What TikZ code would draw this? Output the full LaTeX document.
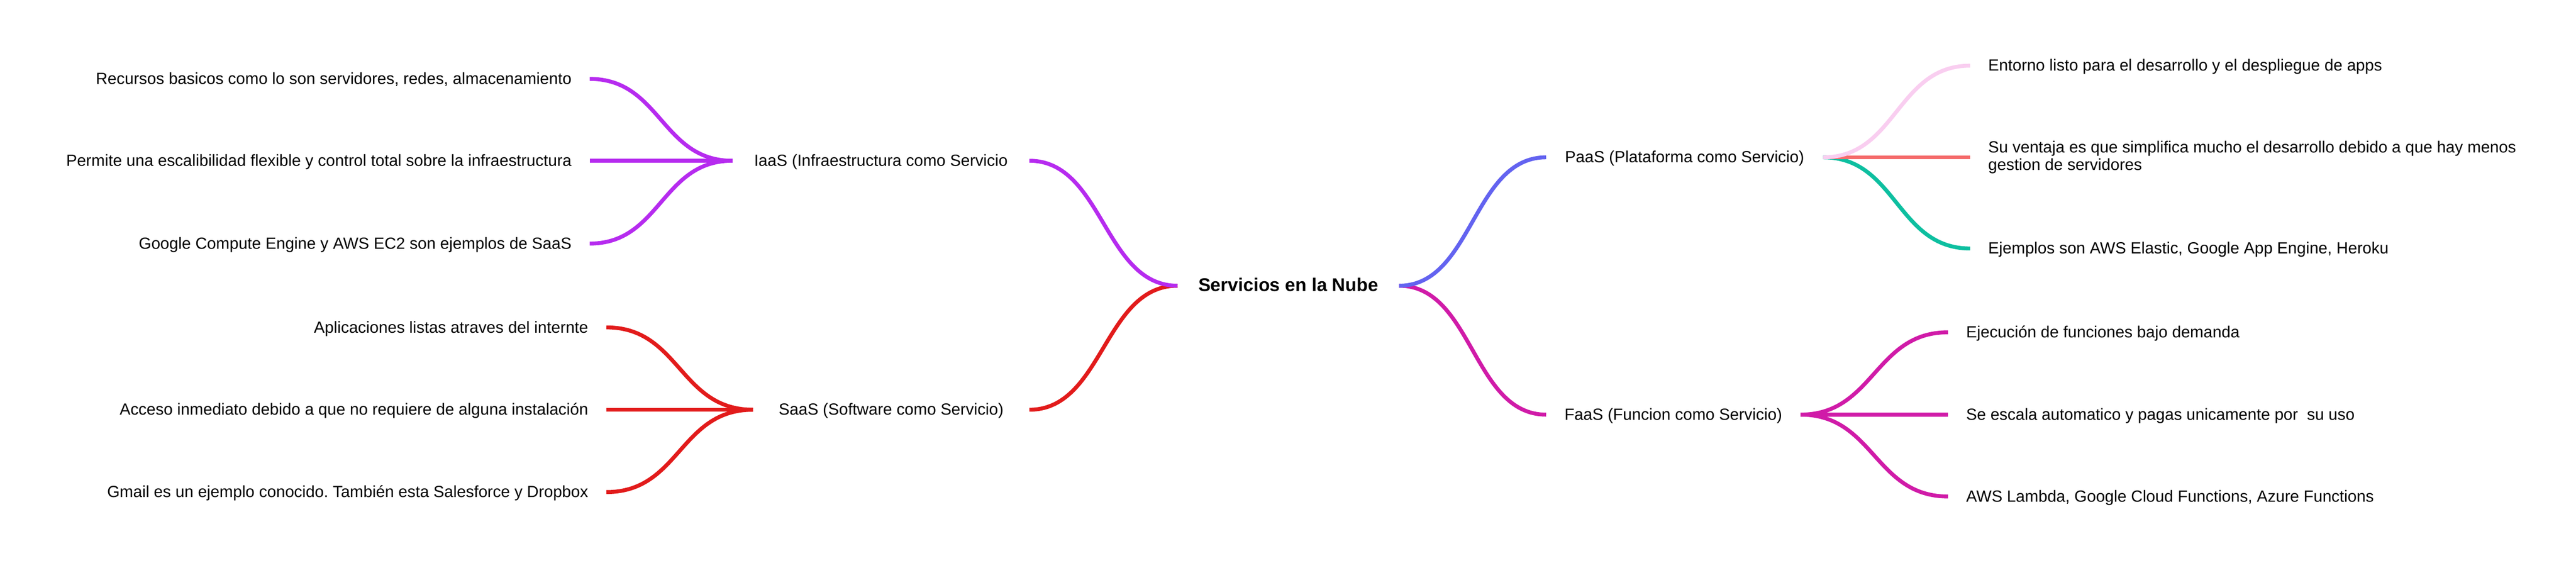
\documentclass[tikz,border=0pt]{standalone}
\usepackage{fontspec}
\setmainfont{Liberation Sans}
\frenchspacing
\definecolor{iaascol}{HTML}{B62BEF}
\definecolor{saascol}{HTML}{E21B1B}
\definecolor{paascol}{HTML}{6363F0}
\definecolor{faascol}{HTML}{D01BA8}
\definecolor{pinkcol}{HTML}{F9CEF0}
\definecolor{salmoncol}{HTML}{F56C6C}
\definecolor{tealcol}{HTML}{0DBFA0}
\tikzset{
  branch/.style={line width=1.6pt},
  idea/.style={font=\fontsize{6.6}{7}\selectfont, outer sep=0pt, inner ysep=0pt,
    text height=5pt, text depth=0.6pt},
  topic/.style={idea, font=\fontsize{7.5}{8}\selectfont\bfseries},
  leafl/.style={idea, anchor=east, inner xsep=7.4pt},
  leafr/.style={idea, anchor=west, inner xsep=7.4pt}
}
\begin{document}
\begin{tikzpicture}
\useasboundingbox (0pt, 0pt) rectangle (1051pt, -229.6pt);
% centre and services
\node[topic, minimum width=90.4pt] (nube) at (525.6pt, -116.6pt) {Servicios en la Nube};
\node[idea, minimum width=121.2pt] (iaas) at (359.4pt, -65.6pt) {IaaS (Infraestructura como Servicio};
\node[idea, minimum width=112.8pt] (saas) at (363.6pt, -167.2pt) {SaaS (Software como Servicio)};
\node[idea, minimum width=113pt] (paas) at (687.3pt, -64.2pt) {PaaS (Plataforma como Servicio)};
\node[idea, minimum width=103.8pt] (faas) at (682.7pt, -169.2pt) {FaaS (Funcion como Servicio)};
% left leaves
\node[leafl] (i1) at (240.6pt, -32.2pt) {Recursos basicos como lo son servidores, redes, almacenamiento};
\node[leafl] (i2) at (240.6pt, -65.6pt) {Permite una escalibilidad flexible y control total sobre la infraestructura};
\node[leafl] (i3) at (240.6pt, -99.4pt) {Google Compute Engine y AWS EC2 son ejemplos de SaaS};
\node[leafl] (s1) at (247.4pt, -133.6pt) {Aplicaciones listas atraves del internte};
\node[leafl] (s2) at (247.4pt, -167.2pt) {Acceso inmediato debido a que no requiere de alguna instalación};
\node[leafl] (s3) at (247.4pt, -200.8pt) {Gmail es un ejemplo conocido. También esta Salesforce y Dropbox};
% right leaves
\node[leafr] (p1) at (803.8pt, -26.8pt) {Entorno listo para el desarrollo y el despliegue de apps};
\node[leafr, text height=, text depth=, align=left] (p2) at (803.8pt, -64.2pt) {Su ventaja es que simplifica mucho el desarrollo debido a que hay menos\\gestion de servidores};
\node[leafr] (p3) at (803.8pt, -101.4pt) {Ejemplos son AWS Elastic, Google App Engine, Heroku};
\node[leafr] (f1) at (794.8pt, -135.6pt) {Ejecución de funciones bajo demanda};
\node[leafr] (f2) at (794.8pt, -169.2pt) {Se escala automatico y pagas unicamente por\ \ su uso};
\node[leafr] (f3) at (794.8pt, -202.6pt) {AWS Lambda, Google Cloud Functions, Azure Functions};
% connectors
\draw[branch, saascol] (nube.west) .. controls +(-30pt, 0pt) and +(30pt, 0pt) .. (saas.east);
\draw[branch, iaascol] (nube.west) .. controls +(-30pt, 0pt) and +(30pt, 0pt) .. (iaas.east);
\draw[branch, faascol] (nube.east) .. controls +(30pt, 0pt) and +(-30pt, 0pt) .. (faas.west);
\draw[branch, paascol] (nube.east) .. controls +(30pt, 0pt) and +(-30pt, 0pt) .. (paas.west);
\foreach \leaf in {i1, i2, i3}
  \draw[branch, iaascol] (iaas.west) .. controls +(-29pt, 0pt) and +(29pt, 0pt) .. (\leaf.east);
\foreach \leaf in {s1, s2, s3}
  \draw[branch, saascol] (saas.west) .. controls +(-30pt, 0pt) and +(30pt, 0pt) .. (\leaf.east);
\foreach \leaf in {f1, f2, f3}
  \draw[branch, faascol] (faas.east) .. controls +(30pt, 0pt) and +(-30pt, 0pt) .. (\leaf.west);
\draw[branch, tealcol] (paas.east) .. controls +(30pt, 0pt) and +(-30pt, 0pt) .. (p3.west);
\draw[branch, salmoncol] (paas.east) -- (p2.west);
\draw[branch, pinkcol] (paas.east) .. controls +(30pt, 0pt) and +(-30pt, 0pt) .. (p1.west);
\end{tikzpicture}
\end{document}
